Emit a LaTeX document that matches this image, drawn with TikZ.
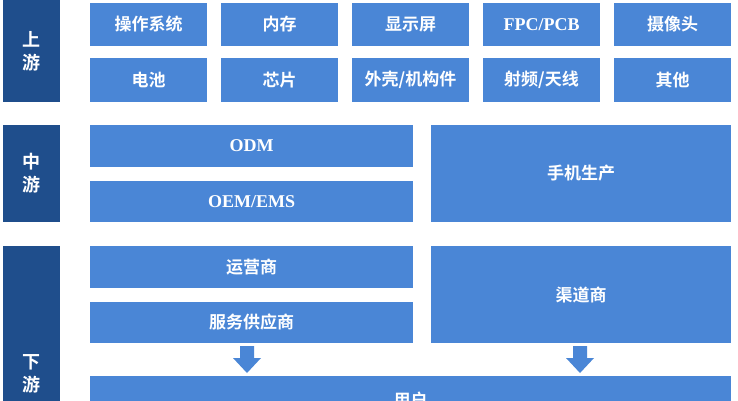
\documentclass[tikz,border=0pt]{standalone}
\usepackage{fontspec}
\setmainfont{Liberation Serif}
\newfontfamily\cjk{Noto Sans CJK SC}[BoldFont={Noto Sans CJK SC Bold}]
\definecolor{dk}{HTML}{1F4E8C}
\definecolor{lt}{HTML}{4A86D6}
\begin{document}
\begin{tikzpicture}[x=1pt,y=-1pt,
 bx/.style={fill=lt,draw=none,text=white,font=\cjk\bfseries\fontsize{17}{19}\selectfont},
 sd/.style={fill=dk,draw=none,text=white,font=\cjk\bfseries\fontsize{18}{23}\selectfont,align=center}]
\useasboundingbox (0,0) rectangle (738,400);
\clip (0,0) rectangle (738,400);
\fill[white] (0,0) rectangle (738,400);
\newcommand\bb[5]{\fill[lt] (#2,#3) rectangle (#4,#5); \node[bx] (#1) at ({(#2+#4)/2},{(#3+#5)/2}) {#1};}
\fill[dk] (3,0) rectangle (60,102); \node[sd] (s1) at (31.5,51) {上\\游};
\fill[dk] (3,125) rectangle (60,222); \node[sd] (s2) at (31.5,173) {中\\游};
\fill[dk] (3,246) rectangle (60,430); \node[sd] (s3) at (31.5,374) {下\\游};
\bb{操作系统}{90}{3}{207}{46}
\bb{内存}{221}{3}{338}{46}
\bb{显示屏}{352}{3}{469}{46}
\fill[lt] (483,3) rectangle (600,46); \node[bx,font=\bfseries\fontsize{18}{20}\selectfont] (fpc) at (541.5,24.5) {FPC/PCB};
\bb{摄像头}{614}{3}{731}{46}
\bb{电池}{90}{58}{207}{102}
\bb{芯片}{221}{58}{338}{102}
\bb{外壳/机构件}{352}{58}{469}{102}
\bb{射频/天线}{483}{58}{600}{102}
\bb{其他}{614}{58}{731}{102}
\fill[lt] (90,125) rectangle (413,167); \node[bx,font=\bfseries\fontsize{18}{20}\selectfont] (odm) at (251.5,146) {ODM};
\fill[lt] (90,181) rectangle (413,222); \node[bx,font=\bfseries\fontsize{18}{20}\selectfont] (oem) at (251.5,201.5) {OEM/EMS};
\bb{手机生产}{431}{125}{731}{222}
\bb{运营商}{90}{246}{413}{288}
\bb{服务供应商}{90}{302}{413}{343}
\bb{渠道商}{431}{246}{731}{343}
\bb{用户}{90}{376}{731}{425}
\foreach \ax in {247,580}{
 \fill[lt] (\ax-7,346) -- (\ax+7,346) -- (\ax+7,358) -- (\ax+14,358) -- (\ax,373) -- (\ax-14,358) -- (\ax-7,358) -- cycle;}
\end{tikzpicture}
\end{document}
